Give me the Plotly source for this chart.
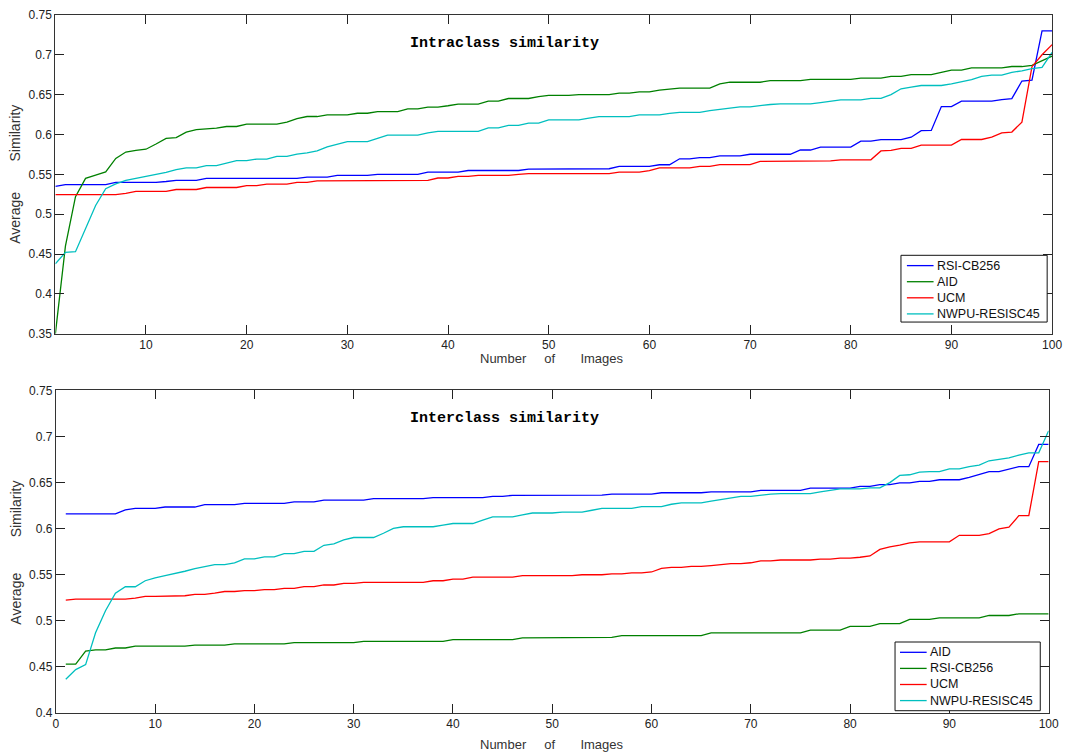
import plotly.graph_objects as go

# Image index (sorted by similarity)
image_idx = list(range(1, 101))

# ---- Intraclass similarity ----
intra_rsi_cb256 = [
    0.535, 0.537, 0.537, 0.537, 0.537, 0.537, 0.540, 0.540, 0.540, 0.540,
    0.540, 0.541, 0.5425, 0.5425, 0.5425, 0.545, 0.545, 0.545, 0.545, 0.545,
    0.545, 0.545, 0.545, 0.545, 0.545, 0.5466, 0.5466, 0.5466, 0.5487, 0.5487,
    0.5487, 0.5487, 0.550, 0.550, 0.550, 0.550, 0.550, 0.5528, 0.5528, 0.5528,
    0.5528, 0.5548, 0.5548, 0.5548, 0.5548, 0.5548, 0.5548, 0.5565, 0.5565, 0.5565,
    0.5565, 0.557, 0.557, 0.557, 0.557, 0.557, 0.560, 0.560, 0.560, 0.560,
    0.562, 0.562, 0.5695, 0.5695, 0.571, 0.571, 0.5732, 0.5732, 0.5732, 0.5752,
    0.5752, 0.5752, 0.5752, 0.5752, 0.5805, 0.5805, 0.5842, 0.5842, 0.5842, 0.5842,
    0.5916, 0.5916, 0.5935, 0.5935, 0.5935, 0.5966, 0.6048, 0.605, 0.635, 0.635,
    0.6417, 0.6417, 0.6417, 0.6417, 0.6438, 0.645, 0.667, 0.668, 0.730, 0.730,
]
intra_aid = [
    0.350, 0.460, 0.522, 0.545, 0.549, 0.553, 0.570, 0.578, 0.580, 0.5815,
    0.588, 0.595, 0.596, 0.603, 0.606, 0.607, 0.608, 0.610, 0.610, 0.613,
    0.613, 0.613, 0.613, 0.6155, 0.620, 0.6225, 0.6225, 0.6245, 0.6245, 0.6245,
    0.6266, 0.6266, 0.6287, 0.6287, 0.6287, 0.632, 0.632, 0.6344, 0.6344, 0.636,
    0.638, 0.638, 0.638, 0.6418, 0.6418, 0.6451, 0.6451, 0.6451, 0.6475, 0.649,
    0.649, 0.649, 0.650, 0.650, 0.650, 0.650, 0.6519, 0.6519, 0.6535, 0.6535,
    0.6556, 0.657, 0.658, 0.658, 0.658, 0.658, 0.6635, 0.6655, 0.6655, 0.6655,
    0.6655, 0.6675, 0.6675, 0.6675, 0.6675, 0.6691, 0.6691, 0.6691, 0.6691, 0.6691,
    0.6706, 0.6706, 0.6706, 0.6729, 0.6729, 0.675, 0.675, 0.675, 0.6778, 0.6807,
    0.6807, 0.6835, 0.6835, 0.6835, 0.6835, 0.6852, 0.6852, 0.6867, 0.692, 0.6983,
]
intra_ucm = [
    0.5245, 0.5245, 0.5245, 0.5245, 0.5245, 0.5245, 0.5245, 0.5261, 0.5286, 0.5286,
    0.5286, 0.5286, 0.531, 0.531, 0.531, 0.5335, 0.5335, 0.5335, 0.5335, 0.5359,
    0.5359, 0.5376, 0.5376, 0.5376, 0.540, 0.540, 0.5417, 0.5417, 0.5425, 0.5425,
    0.5425, 0.5425, 0.5425, 0.5425, 0.5425, 0.5425, 0.5425, 0.5425, 0.5454, 0.5454,
    0.5474, 0.5474, 0.5487, 0.5487, 0.5487, 0.5487, 0.550, 0.551, 0.551, 0.551,
    0.551, 0.551, 0.551, 0.551, 0.551, 0.551, 0.5527, 0.5527, 0.5527, 0.5547,
    0.558, 0.558, 0.558, 0.558, 0.5601, 0.5601, 0.5621, 0.5621, 0.5621, 0.5621,
    0.5662, 0.5662, 0.5662, 0.5662, 0.5662, 0.567, 0.567, 0.567, 0.5682, 0.5682,
    0.5682, 0.5682, 0.5793, 0.580, 0.5826, 0.5826, 0.5867, 0.5867, 0.5867, 0.5867,
    0.5937, 0.5937, 0.5937, 0.5966, 0.6019, 0.603, 0.6155, 0.685, 0.700, 0.7127,
]
intra_nwpu = [
    0.4378, 0.4522, 0.453, 0.483, 0.511, 0.532, 0.538, 0.5425, 0.545, 0.5474,
    0.5505, 0.5525, 0.556, 0.558, 0.558, 0.561, 0.561, 0.5638, 0.5671, 0.5671,
    0.5692, 0.5692, 0.5725, 0.5725, 0.5753, 0.577, 0.5794, 0.5844, 0.5876, 0.5909,
    0.5909, 0.5909, 0.595, 0.5991, 0.5991, 0.5991, 0.5991, 0.602, 0.604, 0.604,
    0.604, 0.604, 0.604, 0.6082, 0.6082, 0.6114, 0.6114, 0.6143, 0.6143, 0.6184,
    0.6184, 0.6184, 0.6184, 0.6204, 0.6224, 0.6224, 0.6224, 0.6224, 0.6245, 0.6245,
    0.6245, 0.6265, 0.6278, 0.6278, 0.6278, 0.6298, 0.6315, 0.6335, 0.6347, 0.6347,
    0.6364, 0.6376, 0.6384, 0.6384, 0.6384, 0.6384, 0.640, 0.6416, 0.6433, 0.6433,
    0.6433, 0.6453, 0.6453, 0.650, 0.6573, 0.6593, 0.6614, 0.6614, 0.6614, 0.6635,
    0.6663, 0.6687, 0.6728, 0.6745, 0.6745, 0.6778, 0.6798, 0.6827, 0.684, 0.703,
]

# ---- Interclass similarity ----
inter_aid = [
    0.616, 0.616, 0.616, 0.616, 0.616, 0.616, 0.6205, 0.622, 0.622, 0.622,
    0.6235, 0.6235, 0.6235, 0.6235, 0.626, 0.626, 0.626, 0.626, 0.6275, 0.6275,
    0.6275, 0.6275, 0.6275, 0.629, 0.629, 0.629, 0.631, 0.631, 0.631, 0.631,
    0.631, 0.6326, 0.6326, 0.6326, 0.6326, 0.6326, 0.6326, 0.6337, 0.6337, 0.6337,
    0.6337, 0.6337, 0.6337, 0.6351, 0.6351, 0.6362, 0.6362, 0.6362, 0.6362, 0.6362,
    0.6365, 0.6365, 0.6365, 0.6365, 0.6365, 0.6375, 0.6375, 0.6375, 0.6375, 0.6375,
    0.639, 0.639, 0.639, 0.639, 0.639, 0.640, 0.640, 0.640, 0.640, 0.640,
    0.6415, 0.6415, 0.6415, 0.6415, 0.6415, 0.644, 0.644, 0.644, 0.644, 0.644,
    0.646, 0.646, 0.6478, 0.6478, 0.6496, 0.6496, 0.6514, 0.6514, 0.6531, 0.6531,
    0.6531, 0.6556, 0.6591, 0.662, 0.662, 0.6648, 0.6673, 0.6673, 0.6914, 0.6914,
]
inter_rsi_cb256 = [
    0.453, 0.453, 0.467, 0.4685, 0.4685, 0.4705, 0.4705, 0.4725, 0.4725, 0.4725,
    0.4725, 0.4725, 0.4725, 0.4736, 0.4736, 0.4736, 0.4736, 0.475, 0.475, 0.475,
    0.475, 0.475, 0.475, 0.4764, 0.4764, 0.4764, 0.4764, 0.4764, 0.4764, 0.4764,
    0.4778, 0.4778, 0.4778, 0.4778, 0.4778, 0.4778, 0.4778, 0.4778, 0.4778, 0.4796,
    0.4796, 0.4796, 0.4796, 0.4796, 0.4796, 0.4796, 0.4814, 0.4814, 0.4814, 0.482,
    0.482, 0.482, 0.482, 0.482, 0.482, 0.482, 0.484, 0.484, 0.484, 0.484,
    0.484, 0.484, 0.484, 0.484, 0.484, 0.487, 0.487, 0.487, 0.487, 0.487,
    0.487, 0.487, 0.487, 0.487, 0.487, 0.490, 0.490, 0.490, 0.490, 0.494,
    0.494, 0.494, 0.4969, 0.4969, 0.4969, 0.5015, 0.5015, 0.5015, 0.5033, 0.5033,
    0.5033, 0.5033, 0.5033, 0.5058, 0.5058, 0.5058, 0.5076, 0.5076, 0.5076, 0.5076,
]
inter_ucm = [
    0.5225, 0.5236, 0.5236, 0.5236, 0.5236, 0.5236, 0.5236, 0.5247, 0.5265, 0.5265,
    0.5265, 0.5272, 0.5272, 0.5286, 0.5286, 0.530, 0.5318, 0.5318, 0.5328, 0.5328,
    0.5339, 0.5339, 0.5353, 0.5353, 0.5371, 0.5371, 0.5389, 0.5389, 0.5407, 0.5407,
    0.5417, 0.5417, 0.5417, 0.5417, 0.5417, 0.5417, 0.5417, 0.5435, 0.5435, 0.5453,
    0.5453, 0.5474, 0.5474, 0.5474, 0.5474, 0.5474, 0.549, 0.549, 0.549, 0.549,
    0.549, 0.549, 0.550, 0.550, 0.550, 0.551, 0.551, 0.552, 0.552, 0.553,
    0.557, 0.558, 0.558, 0.559, 0.559, 0.560, 0.561, 0.562, 0.562, 0.563,
    0.565, 0.565, 0.566, 0.566, 0.566, 0.566, 0.567, 0.567, 0.568, 0.568,
    0.569, 0.5704, 0.5775, 0.5803, 0.5821, 0.5846, 0.5857, 0.5857, 0.5857, 0.5857,
    0.5928, 0.5928, 0.5928, 0.5946, 0.5998, 0.6016, 0.6141, 0.6141, 0.6727, 0.6727,
]
inter_nwpu = [
    0.4366, 0.447, 0.4525, 0.487, 0.511, 0.530, 0.537, 0.537, 0.5435, 0.5467,
    0.549, 0.551, 0.5538, 0.5566, 0.559, 0.561, 0.561, 0.563, 0.5673, 0.5673,
    0.5694, 0.5694, 0.573, 0.573, 0.5754, 0.5754, 0.582, 0.5836, 0.5879, 0.5904,
    0.5904, 0.5904, 0.595, 0.6003, 0.6021, 0.6021, 0.6021, 0.6021, 0.6038, 0.6056,
    0.6056, 0.6056, 0.6092, 0.6127, 0.6127, 0.6127, 0.615, 0.617, 0.617, 0.617,
    0.618, 0.618, 0.618, 0.620, 0.622, 0.622, 0.622, 0.622, 0.624, 0.624,
    0.624, 0.6265, 0.628, 0.628, 0.628, 0.630, 0.6315, 0.6335, 0.635, 0.635,
    0.6364, 0.6376, 0.638, 0.638, 0.638, 0.638, 0.640, 0.6416, 0.6433, 0.6433,
    0.6433, 0.6442, 0.6442, 0.650, 0.6578, 0.6585, 0.6613, 0.662, 0.662, 0.6648,
    0.6648, 0.6673, 0.669, 0.6737, 0.675, 0.6769, 0.6798, 0.6823, 0.6823, 0.7063,
]

BLUE, GREEN, RED, CYAN = "#0000ff", "#008000", "#ff0000", "#00bfbf"

top_series = [
    ("RSI-CB256", intra_rsi_cb256, BLUE),
    ("AID", intra_aid, GREEN),
    ("UCM", intra_ucm, RED),
    ("NWPU-RESISC45", intra_nwpu, CYAN),
]
bottom_series = [
    ("AID", inter_aid, BLUE),
    ("RSI-CB256", inter_rsi_cb256, GREEN),
    ("UCM", inter_ucm, RED),
    ("NWPU-RESISC45", inter_nwpu, CYAN),
]

fig = go.Figure()
for name, vals, color in top_series:
    fig.add_trace(go.Scatter(x=image_idx, y=vals, mode="lines", name=name,
                             line=dict(color=color, width=1.3),
                             xaxis="x", yaxis="y", showlegend=False))
for name, vals, color in bottom_series:
    fig.add_trace(go.Scatter(x=image_idx, y=vals, mode="lines", name=name,
                             line=dict(color=color, width=1.3),
                             xaxis="x2", yaxis="y2", showlegend=False))

W, H = 1071, 755
SANS = "Liberation Sans, Arial, sans-serif"
tick_font = dict(family=SANS, size=12, color="#222222")

axis_style = dict(showline=True, linecolor="#333333", linewidth=1,
                  mirror="allticks", ticks="inside", ticklen=9,
                  tickcolor="#222222", showgrid=False, zeroline=False,
                  tickfont=tick_font)

top_yticks = [0.35, 0.4, 0.45, 0.5, 0.55, 0.6, 0.65, 0.7, 0.75]
bottom_yticks = [0.4, 0.45, 0.5, 0.55, 0.6, 0.65, 0.7, 0.75]


def fmt(v):
    return ("%.2f" % v).rstrip("0")


fig.update_layout(
    width=W, height=H, autosize=False,
    margin=dict(l=0, r=0, t=0, b=0),
    paper_bgcolor="white", plot_bgcolor="white",
    showlegend=False,
    xaxis=dict(domain=[53 / W, 1062 / W], anchor="y", range=[1, 100],
               tickvals=list(range(10, 101, 10)), **axis_style),
    yaxis=dict(domain=[(H - 333) / H, (H - 8) / H], anchor="x", range=[0.35, 0.75],
               tickvals=top_yticks, ticktext=[fmt(v) for v in top_yticks], **axis_style),
    xaxis2=dict(domain=[53.5 / W, 1058.5 / W], anchor="y2", range=[0, 100],
                tickvals=list(range(0, 101, 10)), **axis_style),
    yaxis2=dict(domain=[(H - 719.3) / H, (H - 390.7) / H], anchor="x2", range=[0.4, 0.75],
                tickvals=bottom_yticks, ticktext=[fmt(v) for v in bottom_yticks], **axis_style),
)


def px_x(x):
    return x / W


def px_y(y):
    return 1 - y / H


def px_ann(text, x, y, font, angle=0, xanchor="center"):
    return dict(text=text, x=px_x(x), y=px_y(y), xref="paper", yref="paper",
                xanchor=xanchor, yanchor="middle", showarrow=False,
                font=font, textangle=angle)


shapes = []
annotations = []

# Boxed legends (compact MATLAB-style), one per panel
legend_font = dict(family=SANS, size=12.5, color="#111111")


def add_legend(series, box, first_row, row_step, line_x0, line_x1, text_x):
    x0, y0, x1, y1 = box
    shapes.append(dict(type="rect", xref="paper", yref="paper",
                       x0=px_x(x0), x1=px_x(x1), y0=px_y(y1), y1=px_y(y0),
                       line=dict(color="#111111", width=1), fillcolor="white",
                       layer="above"))
    for i, (name, _, color) in enumerate(series):
        yy = first_row + i * row_step
        shapes.append(dict(type="line", xref="paper", yref="paper",
                           x0=px_x(line_x0), x1=px_x(line_x1),
                           y0=px_y(yy), y1=px_y(yy),
                           line=dict(color=color, width=1.3), layer="above"))
        annotations.append(px_ann(name, text_x, yy, legend_font, xanchor="left"))


add_legend(top_series, (909, 253, 1057, 321), 263.5, 16.4, 915, 942, 943)
add_legend(bottom_series, (903, 647, 1050, 717), 657.5, 16.4, 908, 935, 936)

NB = "\u00a0"
xlabel = "Number" + NB * 5 + "of" + NB * 7 + "Images"
label_font = dict(family=SANS, size=13, color="#333333")
title_font = dict(family="Liberation Mono, Courier New, monospace", size=15, color="#000000")
ylab_font = dict(family=SANS, size=14, color="#333333")

annotations += [
    px_ann("<b>Intraclass similarity</b>", 508, 37, title_font),
    px_ann("<b>Interclass similarity</b>", 508, 419, title_font),
    px_ann(xlabel, 556, 358, label_font),
    px_ann(xlabel, 556, 751, label_font),
    px_ann("Similarity", 12, 128, ylab_font, -90),
    px_ann("Average", 12, 215, ylab_font, -90),
    px_ann("Similarity", 13, 511, ylab_font, -90),
    px_ann("Average", 13, 603, ylab_font, -90),
]
fig.update_layout(shapes=shapes, annotations=annotations)

fig.write_html("out.html")
